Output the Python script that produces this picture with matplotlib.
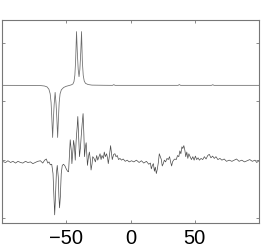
import matplotlib
matplotlib.use("Agg")
import matplotlib.pyplot as plt

# x tick labels
xticks = [-50, 0, 50]
yticks = [-1, 0, 1, 2]

# upper (smooth) trace
top_x = [-100, -75, -70, -67, -65, -63.5, -62.5, -61.8, -61.2, -60.6, -60.0, -59.4,
         -58.65, -57.9, -57.3, -56.7, -56.1, -55.5, -54.8, -53.8, -52, -50, -48,
         -46, -44.8, -44.0, -43.3, -42.7, -42.0, -41.4, -40.7, -40.05, -39.4, -38.7,
         -38.1, -37.5, -36.8, -36.0, -35.0, -33.0, -30.0, -20.0, -14.0, -13.0, -12.0,
         20.0, 37.0, 38.0, 39.0, 63.0, 64.0, 65.0, 100]
top_y = [1.276, 1.275, 1.272, 1.265, 1.25, 1.21, 1.13, 0.98, 0.70, 0.38, 0.70, 0.95,
         1.155, 0.95, 0.70, 0.38, 0.70, 0.98, 1.13, 1.20, 1.24, 1.26, 1.272,
         1.285, 1.30, 1.34, 1.45, 1.70, 2.20, 1.85, 1.55, 1.425, 1.55, 1.85,
         2.20, 1.70, 1.45, 1.35, 1.31, 1.29, 1.28, 1.277, 1.276, 1.288, 1.276,
         1.276, 1.276, 1.289, 1.276, 1.276, 1.287, 1.276, 1.276]

# lower (measured, noisy) trace
low_x = [-100, -97.2, -95.4, -93.3, -91.5, -89.4, -87.6, -85.6, -83.8, -81.7, -79.9,
         -77.8, -76.0, -74.0, -72.2, -70.1, -68.3, -66.8, -65.5, -64.4, -63.4, -62.4,
         -61.3, -60.3, -59.5, -59.0, -58.5, -57.7, -57.0, -56.2, -55.7, -55.2, -54.6,
         -53.9, -53.1, -52.1, -51.0, -50.0, -49.0, -48.2, -47.7, -46.9, -46.1, -45.6,
         -44.8, -44.3, -43.6, -43.0, -42.3, -41.5, -41.0, -40.2, -39.7, -38.9, -38.4,
         -37.6, -36.9, -36.3, -35.8, -35.1, -34.5, -34.0, -33.5, -32.7, -32.0, -31.2,
         -30.7, -29.9, -29.4, -28.4, -27.3, -26.3, -25.5, -24.5, -23.7, -22.9, -22.2,
         -21.1, -20.4, -19.6, -18.6, -17.8, -17.3, -16.5, -15.5, -14.7, -14.2, -13.1,
         -12.1, -11.3, -10.3, -9.3, -8.2, -7.0, -5.7, -4.1, -2.6, -1.0, 0.8, 2.6, 4.6,
         6.7, 8.5, 10.3, 12.4, 14.2, 15.5, 16.2, 17.0, 17.8, 18.6, 19.3, 20.1, 20.9,
         21.6, 22.4, 23.2, 24.0, 24.7, 25.5, 26.3, 27.3, 28.4, 29.4, 30.4, 31.2, 32.0,
         32.7, 33.5, 34.5, 35.6, 36.6, 37.6, 38.4, 39.2, 40.0, 40.7, 41.5, 42.3, 43.0,
         43.8, 44.6, 45.4, 46.4, 47.4, 48.5, 49.5, 50.5, 51.5, 52.6, 53.6, 54.9, 56.2,
         57.5, 58.8, 60.1, 61.3, 62.6, 63.9, 65.2, 66.5, 68.0, 69.6, 71.1, 72.9, 74.7,
         76.8, 78.9, 80.7, 82.5, 84.5, 86.6, 88.7, 90.7, 92.8, 94.8, 96.9, 98.2, 100]
low_y = [-0.03, -0.05, -0.02, -0.05, -0.03, -0.06, -0.03, -0.05, -0.06, -0.03, -0.05,
         -0.04, -0.07, -0.05, -0.03, -0.02, -0.06, -0.01, 0.01, -0.06, -0.04, -0.09,
         -0.08, -0.24, -0.70, -0.95, -0.70, -0.24, -0.10, -0.30, -0.64, -0.83, -0.64,
         -0.24, -0.10, -0.08, -0.11, -0.16, -0.20, -0.21, -0.01, 0.34, 0.16, -0.07,
         0.16, 0.33, 0.22, -0.01, 0.33, 0.56, 0.74, 0.33, 0.05, 0.22, 0.39,
         0.62, 0.79, 0.45, 0.05, 0.22, 0.29, 0.10, -0.10, 0.05, 0.13, -0.01,
         -0.18, -0.07, 0.05, 0.02, -0.04, 0.07, -0.01, 0.05, 0.10, 0.00, 0.07,
         0.02, 0.13, 0.05, 0.10, 0.02, -0.07, 0.05, 0.24, 0.10, 0.00, 0.09,
         0.10, 0.05, 0.07, 0.00, 0.02, -0.01, 0.01, -0.03, -0.01, -0.04, -0.02, -0.04, -0.01,
         -0.05, -0.02, -0.06, -0.03, -0.08, -0.06, -0.16, -0.10, -0.07, -0.20, -0.13, -0.24, -0.16,
         -0.06, 0.10, 0.05, 0.00, -0.11, -0.07, -0.01, -0.04, 0.02, 0.00, 0.05, -0.04, -0.11,
         -0.04, -0.01, 0.01, 0.00, 0.07, 0.05, 0.15, 0.10, 0.22, 0.19, 0.24, 0.16, 0.05,
         0.13, 0.02, 0.10, 0.05, 0.00, 0.05, -0.01, 0.06, 0.00, 0.03, -0.01, 0.02, 0.00,
         0.05, 0.01, 0.07, 0.09, 0.03, 0.06, 0.02, 0.05, 0.00, 0.02, -0.01, 0.01, -0.03,
         -0.01, -0.03, -0.01, 0.01, -0.03, -0.01, -0.04, -0.02, 0.00, -0.03, -0.01, -0.05, -0.02]

plt.rcParams['font.family'] = ['Liberation Sans', 'DejaVu Sans']
fig = plt.figure(figsize=(2.62, 2.47), dpi=100)
ax = fig.add_axes([0.0076, 0.0972, 0.981, 0.822])
ax.plot(top_x, top_y, color='#6a6a6a', lw=0.55)
ax.plot(low_x, low_y, color='#4a4a4a', lw=0.5)
ax.set_xlim(-100, 100)
ax.set_ylim(-1.09, 2.40)
ax.set_xticks(xticks)
ax.set_yticks(yticks)
ax.set_yticklabels([])
ax.tick_params(direction='in', length=2.5, width=0.6, color='#777777',
               top=True, right=True, labelsize=14.5, pad=4.5)
for s in ax.spines.values():
    s.set_color('#777777')
    s.set_linewidth(0.8)
fig.savefig('out.png', dpi=100)
